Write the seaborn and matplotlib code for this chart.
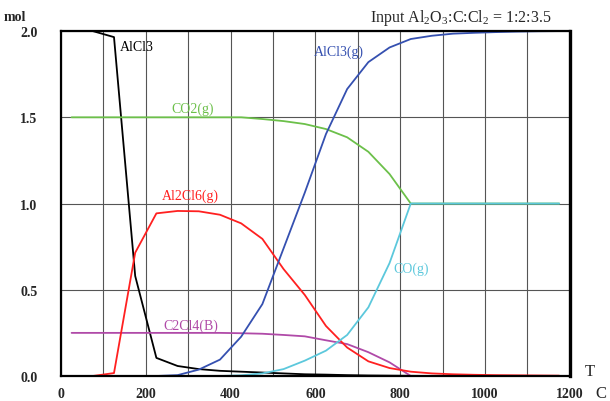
import matplotlib
matplotlib.use("Agg")
import matplotlib.pyplot as plt
import seaborn as sns
import pandas as pd

T = [25, 75, 125, 175, 225, 275, 325, 375, 425, 475, 525, 575,
     625, 675, 725, 775, 825, 875, 925, 975, 1025, 1075, 1125, 1175]

alcl3 = [2.0, 2.0, 1.965, 0.58, 0.105, 0.058, 0.04, 0.03, 0.025, 0.02, 0.015, 0.01,
         0.008, 0.005, 0.003, 0.002, 0.001, 0, 0, 0, 0, 0, 0, 0]
al2cl6 = [0, 0, 0.017, 0.715, 0.943, 0.957, 0.955, 0.935, 0.885, 0.795, 0.62, 0.47,
          0.29, 0.165, 0.085, 0.046, 0.025, 0.015, 0.01, 0.007, 0.005, 0.004, 0.003, 0.002]
alcl3g = [0, 0, 0, 0, 0, 0.005, 0.037, 0.095, 0.228, 0.417, 0.74, 1.063,
          1.403, 1.664, 1.82, 1.905, 1.954, 1.973, 1.985, 1.99, 1.994, 1.997, 1.999, 2.0]
co2 = [1.5, 1.5, 1.5, 1.5, 1.5, 1.5, 1.5, 1.5, 1.5, 1.49, 1.478, 1.461,
       1.432, 1.384, 1.30, 1.171, 1.0, 1.0, 1.0, 1.0, 1.0, 1.0, 1.0, 1.0]
co = [0, 0, 0, 0, 0, 0, 0, 0, 0.004, 0.015, 0.04, 0.089,
      0.147, 0.238, 0.398, 0.655, 1.0, 1.0, 1.0, 1.0, 1.0, 1.0, 1.0, 1.0]
c2cl4 = [0.25, 0.25, 0.25, 0.25, 0.25, 0.25, 0.25, 0.25, 0.248, 0.245, 0.238, 0.23,
         0.207, 0.185, 0.138, 0.079, 0.0, 0, 0, 0, 0, 0, 0, 0]

series_names = ["AlCl3", "CO2(g)", "C2Cl4(B)", "Al2Cl6(g)", "AlCl3(g)", "CO(g)"]
series_vals = [alcl3, co2, c2cl4, al2cl6, alcl3g, co]
colors = ["#000000", "#6cc04a", "#b04aa8", "#ff2020", "#3550b0", "#5cc8dc"]

label_names = ["AlCl3", "CO2(g)", "Al2Cl6(g)", "C2Cl4(B)", "AlCl3(g)", "CO(g)"]
label_x = [179, 311, 304, 306, 655, 827]
label_y = [1.91, 1.554, 1.049, 0.296, 1.884, 0.626]
label_colors = ["#000000", "#6cc04a", "#ff2020", "#b04aa8", "#3550b0", "#5cc8dc"]

xticks = [0, 200, 400, 600, 800, 1000, 1200]
yticks = [0.0, 0.5, 1.0, 1.5, 2.0]

sns.set_style("white")
plt.rcParams["font.family"] = ["Liberation Serif", "DejaVu Serif"]
plt.rcParams["mathtext.fontset"] = "custom"
plt.rcParams["mathtext.rm"] = "Liberation Serif"
plt.rcParams["mathtext.it"] = "Liberation Serif:italic"

fig = plt.figure(figsize=(6.10, 4.02), dpi=100)
ax = fig.add_axes([0.1, 0.0622, 0.834, 0.858])

for name, vals, c in zip(series_names, series_vals, colors):
    df = pd.DataFrame({"T": T, "v": vals})
    sns.lineplot(data=df, x="T", y="v", color=c, lw=1.3, ax=ax, legend=False)

ax.set_xlim(0, 1200)
ax.set_ylim(0, 2.0)
ax.set_xticks(xticks)
ax.set_xticks(range(100, 1200, 200), minor=True)
ax.set_yticks(yticks)
ax.set_xticklabels([str(t) for t in xticks], fontweight="bold", fontsize=10)
ax.set_yticklabels([f"{t:.1f}" for t in yticks], fontweight="bold", fontsize=10)
ax.tick_params(axis="both", which="both", length=0)
ax.tick_params(axis="x", pad=8)
ax.tick_params(axis="y", pad=17)
ax.grid(True, which="both", color="#555555", lw=0.8)
ax.set_axisbelow(True)
ax.set_xlabel("")
ax.set_ylabel("")
for s in ["left", "bottom", "top"]:
    ax.spines[s].set_linewidth(1.6)
    ax.spines[s].set_color("black")
ax.spines["right"].set_linewidth(2.4)
ax.spines["right"].set_color("black")

for n, x, y, c in zip(label_names, label_x, label_y, label_colors):
    ax.text(x, y, n, color=c, fontsize=10, ha="center", va="center")

fig.text(0.756, 0.955, r"Input Al$_2$O$_3$:C:Cl$_2$ = 1:2:3.5", fontsize=11.5,
         ha="center", va="center")
fig.text(0.0246, 0.957, "mol", fontsize=10, fontweight="bold", ha="center", va="center")
fig.text(0.967, 0.0746, "T", fontsize=12, ha="center", va="center")
fig.text(0.985, 0.02, "C", fontsize=12, ha="center", va="center")

fig.savefig("out.png", dpi=100)
